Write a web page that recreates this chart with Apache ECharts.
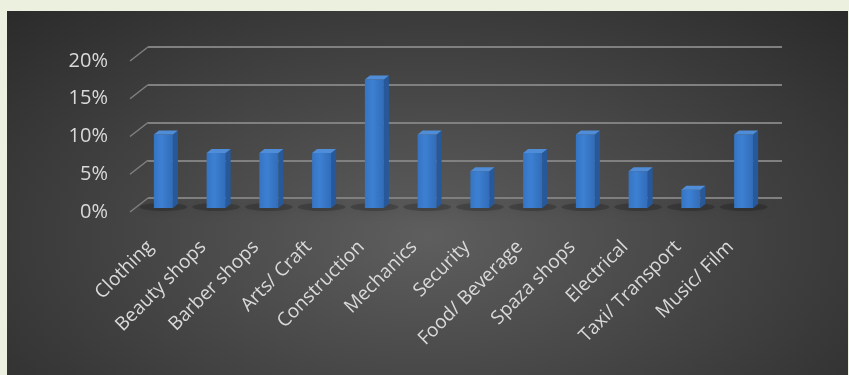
<!DOCTYPE html>
<html lang="en">
<head>
    <meta charset="UTF-8">
    <title>Business types</title>
    <script src="https://cdn.jsdelivr.net/npm/echarts@6/dist/echarts.min.js"></script>
    <style>
        html, body {
            margin: 0;
            padding: 0;
            background: #ebf1de;
            overflow: hidden;
        }

        .panel {
            position: absolute;
            left: 7px;
            top: 11px;
            width: 841px;
            height: 364px;
            background: radial-gradient(ellipse 75% 95% at 50% 62%, #5e5e5e 0%, #484848 40%, #272727 100%);
        }

        .chart {
            position: absolute;
            left: 0;
            top: 0;
            width: 849px;
            height: 375px;
        }
    </style>
</head>
<body>
<div class="panel"></div>
<div id="main" class="chart"></div>

<script type="text/javascript">
    // category names and share of businesses (%)
    const categories = ['Clothing', 'Beauty shops', 'Barber shops', 'Arts/ Craft', 'Construction', 'Mechanics',
        'Security', 'Food/ Beverage', 'Spaza shops', 'Electrical', 'Taxi/ Transport', 'Music/ Film'];
    const shares = [10, 7.5, 7.5, 7.5, 17.5, 10, 5, 7.5, 10, 5, 2.5, 10];
    const yTicks = [0, 5, 10, 15, 20];

    const font = '"Open Sans", "Liberation Sans", sans-serif';
    const gridColor = '#808080';
    const depthX = 18, depthY = 14;   // floor slant at the left wall

    let chart = echarts.init(document.getElementById('main'));

    // 3D-ish column: front face, right side, top cap and a soft floor shadow
    function renderBar(params, api) {
        let top = api.coord([api.value(0), api.value(1)]);
        let base = api.coord([api.value(0), 0]);
        let w = 19, dx = 5, dy = 4;
        let x0 = top[0] - w / 2;
        return {
            type: 'group',
            children: [
                {
                    type: 'ellipse',
                    shape: {cx: x0 + w / 2, cy: base[1] - 1, rx: 24, ry: 4},
                    style: {fill: 'rgba(0,0,0,0.2)', shadowBlur: 8, shadowColor: 'rgba(0,0,0,0.5)'}
                },
                {
                    type: 'polygon',
                    shape: {points: [[x0 + w, top[1]], [x0 + w + dx, top[1] - dy], [x0 + w + dx, base[1] - dy], [x0 + w, base[1]]]},
                    style: {fill: '#27599a'}
                },
                {
                    type: 'rect',
                    shape: {x: x0, y: top[1], width: w, height: base[1] - top[1]},
                    style: {
                        fill: new echarts.graphic.LinearGradient(0, 0, 1, 0, [
                            {offset: 0, color: '#3574c4'},
                            {offset: 0.4, color: '#3d80d2'},
                            {offset: 1, color: '#316cb8'}
                        ])
                    }
                },
                {
                    type: 'polygon',
                    shape: {points: [[x0, top[1]], [x0 + dx, top[1] - dy], [x0 + w + dx, top[1] - dy], [x0 + w, top[1]]]},
                    style: {fill: '#4f8dd8'}
                }
            ]
        };
    }

    // slanted floor lines joining the labels to the back-wall gridlines
    function renderSlant(params, api) {
        let y = api.coord([0, api.value(1)])[1];
        let x = params.coordSys.x;
        return {
            type: 'line',
            shape: {x1: x - depthX, y1: y + depthY, x2: x, y2: y},
            style: {stroke: gridColor, lineWidth: 1.5}
        };
    }

    let option = {
        animation: false,
        backgroundColor: 'transparent',
        grid: [
            {left: 148, right: 67, top: 47, height: 151},   // back wall
            {left: 130, width: 10, top: 61, height: 151},   // value labels
            {left: 137, width: 633, top: 61, height: 147},  // columns
            {left: 124, width: 633, top: 61, height: 147}   // category labels
        ],
        xAxis: [
            {gridIndex: 0, type: 'category', data: categories, show: false},
            {gridIndex: 1, type: 'category', data: [''], show: false},
            {gridIndex: 2, type: 'category', data: categories, show: false},
            {
                gridIndex: 3,
                type: 'category',
                data: categories,
                axisLine: {show: false},
                axisTick: {show: false},
                axisLabel: {
                    rotate: 45,
                    interval: 0,
                    margin: 36,
                    color: '#d9d9d9',
                    fontSize: 19,
                    fontFamily: font
                }
            }
        ],
        yAxis: [
            {
                gridIndex: 0, type: 'value', min: 0, max: 20, interval: 5,
                axisLabel: {show: false},
                axisLine: {show: false},
                axisTick: {show: false},
                splitLine: {lineStyle: {color: gridColor, width: 2}}
            },
            {
                gridIndex: 1, type: 'value', min: 0, max: 20, interval: 5,
                axisLine: {show: false},
                axisTick: {show: false},
                splitLine: {show: false},
                axisLabel: {
                    formatter: '{value}%',
                    margin: 22,
                    color: '#d9d9d9',
                    fontSize: 20,
                    fontFamily: font
                }
            },
            {gridIndex: 2, type: 'value', min: 0, max: 20, interval: 5, show: false},
            {gridIndex: 3, type: 'value', min: 0, max: 20, interval: 5, show: false}
        ],
        series: [
            {
                type: 'custom',
                xAxisIndex: 0,
                yAxisIndex: 0,
                renderItem: renderSlant,
                clip: false,
                data: yTicks.map(function (v) {
                    return [0, v];
                })
            },
            {
                type: 'custom',
                xAxisIndex: 2,
                yAxisIndex: 2,
                renderItem: renderBar,
                clip: false,
                data: shares.map(function (v, i) {
                    return [i, v];
                })
            }
        ]
    };

    chart.setOption(option);
</script>
</body>
</html>
